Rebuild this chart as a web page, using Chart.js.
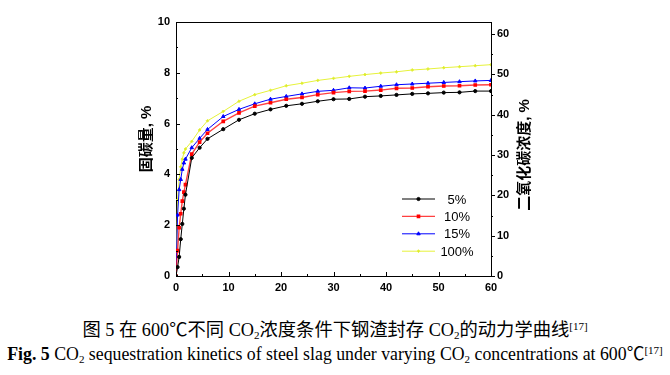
<!DOCTYPE html>
<html>
<head>
<meta charset="utf-8">
<script src="https://cdn.jsdelivr.net/npm/chart.js@4.4.0/dist/chart.umd.min.js"></script>
<style>
  body { margin: 0; background: #fff; }
  #wrap { position: relative; width: 670px; height: 375px; }
  #myChart { position: absolute; left: 0; top: 0; }
  .cap { position: absolute; left: 0; width: 670px; text-align: center; white-space: nowrap;
         font-family: "Liberation Serif", "Noto Sans CJK SC", serif; color: #000; }
  .cap sub { font-size: 11px; vertical-align: -3px; line-height: 0; }
  .cap sup { font-size: 11px; vertical-align: 6px; line-height: 0; }
</style>
</head>
<body>
<div id="wrap">
<canvas id="myChart" width="670" height="318"></canvas>
<div class="cap" style="top:319px;line-height:22px;font-size:18.3px;">图 5 在 600℃不同 CO<sub>2</sub>浓度条件下钢渣封存 CO<sub>2</sub>的动力学曲线<sup>[17]</sup></div>
<div class="cap" style="top:343px;line-height:22px;font-size:17.8px;"><b>Fig. 5</b> CO<sub>2</sub> sequestration kinetics of steel slag under varying CO<sub>2</sub> concentrations at 600℃<sup>[17]</sup></div>
</div>
<script>
// time, min
const times = [0, 0.3, 0.6, 0.9, 1.2, 1.5, 1.8, 3, 4.5, 6, 9, 12, 15, 18, 21, 24, 27, 30, 33, 36, 39, 42, 45, 48, 51, 54, 57, 60];

// carbon fixed, %
const co2_5 = [0, 0.35, 0.75, 1.45, 2.05, 2.65, 3.2, 4.65, 5.05, 5.4, 5.78, 6.15, 6.39, 6.56, 6.70, 6.78, 6.88, 6.96, 6.97, 7.06, 7.09, 7.13, 7.17, 7.19, 7.22, 7.23, 7.28, 7.28];
const co2_10 = [0, 1.0, 1.9, 2.45, 2.95, 3.3, 3.6, 4.8, 5.27, 5.62, 6.09, 6.42, 6.69, 6.82, 6.96, 7.03, 7.14, 7.22, 7.27, 7.28, 7.32, 7.39, 7.40, 7.45, 7.48, 7.49, 7.52, 7.53];
const co2_15 = [0, 2.4, 3.4, 3.8, 4.2, 4.45, 4.6, 5.05, 5.42, 5.77, 6.28, 6.56, 6.78, 6.96, 7.07, 7.17, 7.27, 7.31, 7.41, 7.40, 7.47, 7.53, 7.56, 7.59, 7.62, 7.65, 7.68, 7.70];
const co2_100 = [0, 3.0, 3.8, 4.3, 4.6, 4.85, 5.0, 5.3, 5.75, 6.11, 6.48, 6.88, 7.14, 7.31, 7.49, 7.59, 7.70, 7.78, 7.86, 7.93, 7.99, 8.04, 8.11, 8.15, 8.20, 8.24, 8.28, 8.32];

const seriesLabels = ['5%', '10%', '15%', '100%'];

const tickFont = { family: 'Liberation Sans', size: 11, weight: 'bold' };
const borderWidth = 1;

function pts(arr) {
    return times.map((t, i) => ({ x: t, y: arr[i] }));
}

const data = {
    datasets: [{
            label: seriesLabels[0],
            borderColor: '#000000',
            backgroundColor: '#000000',
            borderWidth: borderWidth,
            pointStyle: 'circle',
            pointRadius: 1.6,
            data: pts(co2_5)
        },
        {
            label: seriesLabels[1],
            borderColor: 'rgba(255, 0, 0, 0.75)',
            backgroundColor: '#ff0000',
            pointBorderColor: '#ff0000',
            borderWidth: 1.4,
            pointStyle: 'rect',
            pointRadius: 1.6,
            data: pts(co2_10)
        },
        {
            label: seriesLabels[2],
            borderColor: '#0000ff',
            backgroundColor: '#0000ff',
            borderWidth: borderWidth,
            pointStyle: 'triangle',
            pointRadius: 2,
            data: pts(co2_15)
        },
        {
            label: seriesLabels[3],
            borderColor: '#e6f23a',
            backgroundColor: '#d8e830',
            borderWidth: borderWidth,
            pointStyle: 'rectRot',
            pointRadius: 1.4,
            data: pts(co2_100)
        }
    ]
};

// tick marks, frame, axis titles, legend
const decor = {
    id: 'decor',
    afterDraw(chart) {
        const ctx = chart.ctx;
        const a = chart.chartArea;
        const sx = chart.scales.x, sy = chart.scales.y, sy2 = chart.scales.y2;
        ctx.save();
        ctx.strokeStyle = '#000';
        ctx.lineWidth = 1;
        ctx.beginPath();
        ctx.moveTo(a.left, a.top + 0.5);
        ctx.lineTo(a.right, a.top + 0.5);
        for (let v = 0; v <= 60; v += 5) {
            const px = Math.round(sx.getPixelForValue(v)) + 0.5;
            ctx.moveTo(px, a.bottom);
            ctx.lineTo(px, a.bottom - (v % 10 === 0 ? 4 : 2));
        }
        for (let v = 0; v <= 10; v += 1) {
            const py = Math.round(sy.getPixelForValue(v)) + 0.5;
            ctx.moveTo(a.left, py);
            ctx.lineTo(a.left + (v % 2 === 0 ? 4 : 2), py);
        }
        for (let v = 0; v <= 60; v += 5) {
            const py = Math.round(sy2.getPixelForValue(v)) + 0.5;
            ctx.moveTo(a.right, py);
            ctx.lineTo(a.right + (v % 10 === 0 ? 4 : 2), py);
        }
        ctx.stroke();

        ctx.fillStyle = '#000';
        ctx.font = 'bold 15px "Liberation Sans", "Noto Sans CJK SC"';
        ctx.textAlign = 'center';
        ctx.textBaseline = 'middle';
        ctx.save();
        ctx.translate(147, 139);
        ctx.rotate(-Math.PI / 2);
        ctx.fillText('固碳量, %', 0, 0);
        ctx.restore();
        ctx.save();
        ctx.translate(525, 155);
        ctx.rotate(-Math.PI / 2);
        ctx.fillText('二氧化碳浓度, %', 0, 0);
        ctx.restore();

        // legend inside the plot
        ctx.font = '13px "Liberation Sans"';
        chart.data.datasets.forEach((ds, i) => {
            const y = 199 + i * 17.4;
            ctx.strokeStyle = ds.borderColor;
            ctx.lineWidth = ds.borderWidth;
            ctx.beginPath();
            ctx.moveTo(402, y);
            ctx.lineTo(435, y);
            ctx.stroke();
            ctx.fillStyle = ds.backgroundColor;
            ctx.strokeStyle = ds.pointBorderColor || ds.borderColor;
            Chart.helpers.drawPoint(ctx, { pointStyle: ds.pointStyle, radius: ds.pointRadius, rotation: 0, borderWidth: 1 }, 418.5, y);
            ctx.fillStyle = '#000';
            ctx.fillText(ds.label, 457, y + 1);
        });
        ctx.restore();
    }
};

const options = {
    responsive: false,
    animation: false,
    layout: { padding: { left: 130, right: 139, top: 22, bottom: 2 } },
    plugins: { legend: { display: false }, tooltip: { enabled: false } },
    elements: { line: { tension: 0 } },
    scales: {
        x: {
            type: 'linear', min: 0, max: 60,
            afterFit(s) { s.height = 40; },
            grid: { display: false, drawTicks: false },
            border: { display: true, color: '#000', width: 1 },
            ticks: { stepSize: 10, color: '#000', font: tickFont, padding: 5, maxRotation: 0 }
        },
        y: {
            type: 'linear', position: 'left', min: 0, max: 10,
            afterFit(s) { s.width = 46; },
            grid: { display: false, drawTicks: false },
            border: { display: true, color: '#000', width: 1 },
            ticks: { stepSize: 2, color: '#000', font: tickFont, padding: 6 }
        },
        y2: {
            type: 'linear', position: 'right', min: 0, max: 63,
            afterFit(s) { s.width = 40; },
            grid: { display: false, drawTicks: false },
            border: { display: true, color: '#000', width: 1 },
            ticks: { stepSize: 10, includeBounds: false, color: '#000', font: tickFont, padding: 6 }
        }
    }
};

var ctx = document.getElementById('myChart').getContext('2d');
var myLineChart = new Chart(ctx, {
    type: 'scatter',
    data: data,
    options: Object.assign(options, { showLine: true }),
    plugins: [decor]
});
</script>
</body>
</html>
